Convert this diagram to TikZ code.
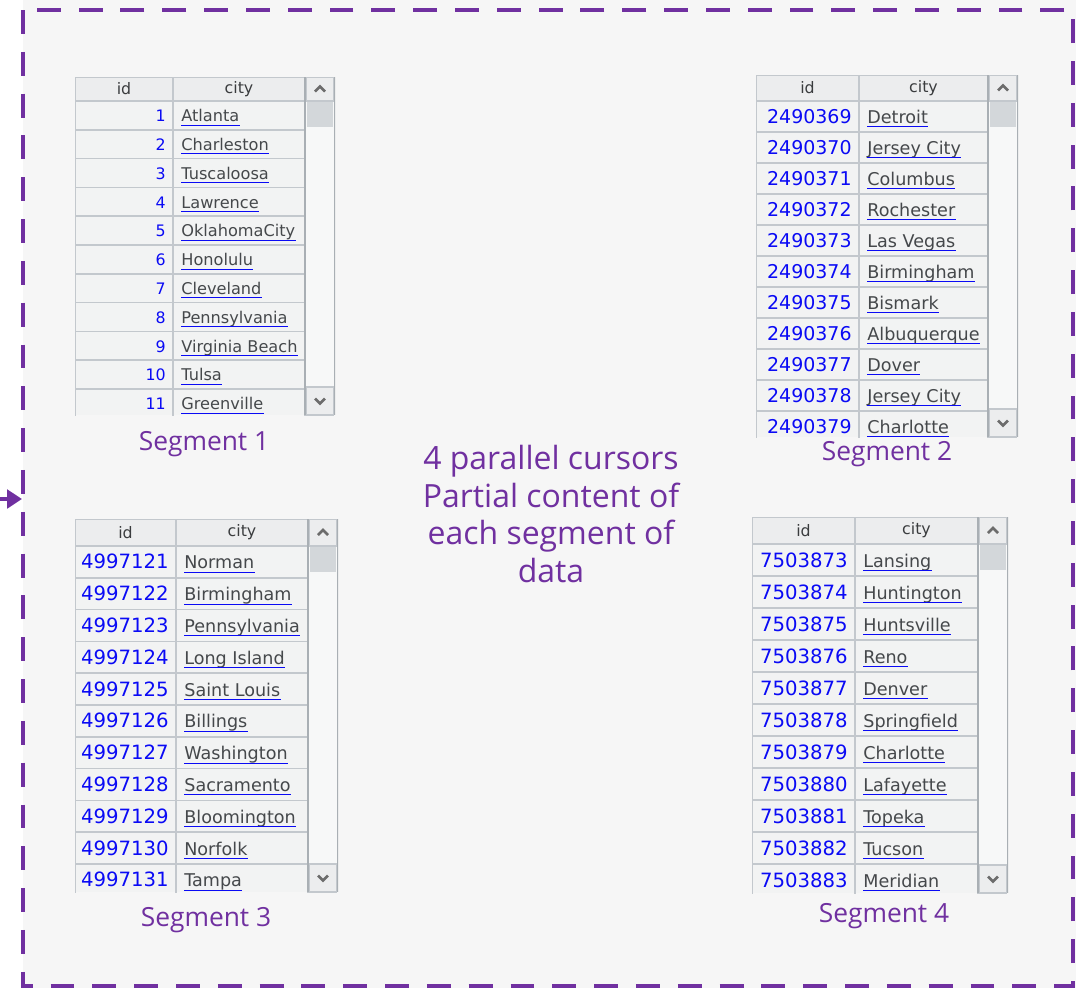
\documentclass[tikz,border=0pt]{standalone}
\usepackage{fontspec}
\usepackage{tikz}
\usetikzlibrary{arrows.meta, positioning}
\newfontfamily\tablefont{DejaVu Sans}
\newfontfamily\labelfont{Open Sans}
\definecolor{segpurple}{HTML}{7030A0}
\definecolor{gridgray}{HTML}{C3C8CD}
\definecolor{cellbg}{HTML}{F2F3F3}
\definecolor{headbg}{HTML}{ECEDEE}
\definecolor{trackbg}{HTML}{F7F8F8}
\definecolor{idblue}{HTML}{0A0AF5}
\definecolor{citygray}{HTML}{45484B}
\definecolor{headgray}{HTML}{3A3C3E}
\definecolor{thumbgray}{HTML}{D3D7DA}
\definecolor{scrolledge}{HTML}{A9AFB4}

\newcommand{\idsize}{9}
\newcommand{\citysize}{9.2}

% name, x, y, id width, city width, head height, row height, visible height, rows
\newcommand{\segtable}[9]{%
  \begin{scope}[shift={(#2,#3)}]
    \pgfmathsetmacro\segx{#4+#5}
    \begin{scope}
      \clip (0,0) rectangle (\segx+30,#8);
      \fill[cellbg] (0,0) rectangle (\segx,#8);
      \fill[headbg] (0,0) rectangle (\segx,#6);
      \draw[gridline] (0,0) rectangle (#4,#6) (#4,0) rectangle (\segx,#6);
      \node[headtext] (#1-hid) at (#4/2,#6/2) {id};
      \node[headtext] (#1-hcity) at (#4+#5/2,#6/2) {city};
      \foreach \n/\c [count=\k] in {#9} {
        \draw[gridline] (0,#6+\k*#7-#7) rectangle (#4,#6+\k*#7)
          (#4,#6+\k*#7-#7) rectangle (\segx,#6+\k*#7);
        \node[idtext] (#1-id\k) at (#4-7,#6+\k*#7-0.28*#7) {\n};
        \node[citytext] (#1-city\k) at (#4+8,#6+\k*#7-0.28*#7) {\c};
        \draw[link] ([yshift=-1.9pt]#1-city\k.base west) -- ([yshift=-1.9pt]#1-city\k.base east);
      }
      % scroll bar
      \fill[trackbg] (\segx,0) rectangle (\segx+30,#8);
      \draw[gridline, fill=headbg] (\segx+1.5,0) rectangle (\segx+28.5,#6);
      \fill[thumbgray] (\segx+2,#6+1) rectangle (\segx+28,#6+26);
      \draw[gridline, fill=headbg] (\segx+1.5,#8-28) rectangle (\segx+28.5,#8);
      \draw[scrollline] (\segx,0) -- (\segx,#8) (\segx+30,0) -- (\segx+30,#8);
      \draw[chevron] (\segx+10,#6/2+2.5) -- (\segx+15,#6/2-2.5) -- (\segx+20,#6/2+2.5);
      \draw[chevron] (\segx+10,#8-16.5) -- (\segx+15,#8-11.5) -- (\segx+20,#8-16.5);
    \end{scope}
  \end{scope}}

\begin{document}
\begin{tikzpicture}[
        x=0.02cm, y=-0.02cm,
        gridline/.style={draw=gridgray, line width=1pt},
        headtext/.style={inner sep=0pt, text=headgray, font=\tablefont\fontsize{9}{10}\selectfont},
        idtext/.style={anchor=base east, inner sep=0pt, text=idblue, font=\tablefont\fontsize{\idsize}{12}\selectfont},
        citytext/.style={anchor=base west, inner sep=0pt, text=citygray, font=\tablefont\fontsize{\citysize}{12}\selectfont},
        link/.style={draw=idblue, line width=0.6pt},
        scrollline/.style={draw=scrolledge, line width=1.4pt},
        chevron/.style={draw=gray!85!black, line width=1.5pt},
        seglabel/.style={text=segpurple, font=\labelfont\fontsize{15}{18}\selectfont},
        note/.style={align=center, text=segpurple, font=\labelfont\fontsize{18.2}{21.5}\selectfont},
        frame/.style={draw=segpurple, line width=2.8pt, dash pattern=on 13.6pt off 10.2pt},
        inarrow/.style={-{Triangle[length=8.5pt,width=10.5pt]}, draw=segpurple, line width=2.8pt}
    ]
    \useasboundingbox (0,0) rectangle (1076,988);
    \fill[white] (0,0) rectangle (1076,988);
    \fill[gray!7] (23,0) rectangle (1076,988);

    \renewcommand{\idsize}{9}\renewcommand{\citysize}{9.2}
    \segtable{sa}{75}{77}{98}{132}{24}{28.8}{338}{1/Atlanta, 2/Charleston, 3/Tuscaloosa,
      4/Lawrence, 5/OklahomaCity, 6/Honolulu, 7/Cleveland, 8/Pennsylvania,
      9/Virginia Beach, 10/Tulsa, 11/Greenville}

    \renewcommand{\idsize}{10.8}\renewcommand{\citysize}{10}
    \segtable{sb}{756}{75}{103}{129}{26}{31}{362}{2490369/Detroit, 2490370/Jersey City,
      2490371/Columbus, 2490372/Rochester, 2490373/Las Vegas, 2490374/Birmingham,
      2490375/Bismark, 2490376/Albuquerque, 2490377/Dover, 2490378/Jersey City,
      2490379/Charlotte}

    \renewcommand{\idsize}{11.2}\renewcommand{\citysize}{10}
    \segtable{sc}{75}{519}{101}{132}{27}{31.8}{373}{4997121/Norman, 4997122/Birmingham,
      4997123/Pennsylvania, 4997124/Long Island, 4997125/Saint Louis, 4997126/Billings,
      4997127/Washington, 4997128/Sacramento, 4997129/Bloomington, 4997130/Norfolk,
      4997131/Tampa}

    \renewcommand{\idsize}{11.2}\renewcommand{\citysize}{10}
    \segtable{sd}{752}{517}{103}{123}{27}{32}{376}{7503873/Lansing, 7503874/Huntington,
      7503875/Huntsville, 7503876/Reno, 7503877/Denver, 7503878/Springfield,
      7503879/Charlotte, 7503880/Lafayette, 7503881/Topeka, 7503882/Tucson,
      7503883/Meridian}

    \node[seglabel] (lab1) at (204,444) {Segment 1};
    \node[seglabel] (lab2) at (887,454) {Segment 2};
    \node[seglabel] (lab3) at (206,920) {Segment 3};
    \node[seglabel] (lab4) at (884,916) {Segment 4};

    \node[note] (note) at (551,514) {4 parallel cursors\\Partial content of\\each segment of\\data};

    % dashed frame and the arrow coming in from the left
    \draw[frame] (23,10) rectangle (1073,986);
    \coordinate (src) at (0,499);
    \coordinate (entry) at (22,499);
    \draw[inarrow] (src) -- (entry);
\end{tikzpicture}
\end{document}
